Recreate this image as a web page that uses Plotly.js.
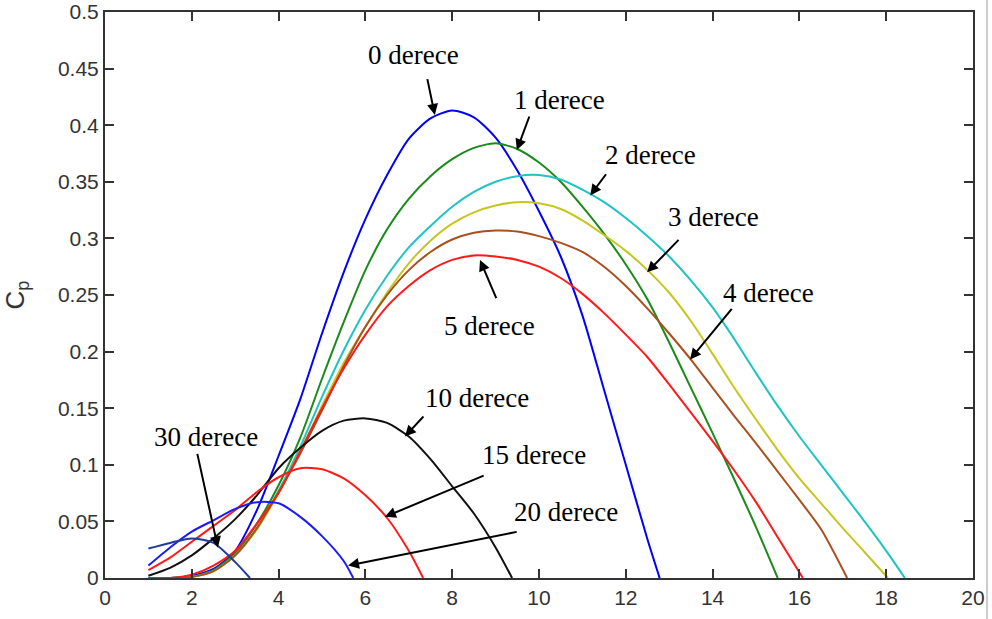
<!DOCTYPE html>
<html>
<head>
<meta charset="utf-8">
<script src="https://cdn.plot.ly/plotly-3.0.1.min.js"></script>
<style>
html,body{margin:0;padding:0;background:#fff;}
#chart{width:992px;height:619px;}
</style>
</head>
<body>
<div id="chart"></div>
<script>
// ---- Data ----
const x0 = [1,1.5,2,2.5,3,3.5,4,4.5,5,5.5,6,6.5,7,7.5,8,8.5,9,9.5,10,10.5,11,11.5,12,12.5,12.78];
const y0 = [0,0,0.002,0.008,0.024,0.06,0.108,0.158,0.216,0.27,0.317,0.356,0.388,0.406,0.413,0.407,0.389,0.36,0.324,0.284,0.232,0.166,0.1,0.034,0];

const x1 = [1,1.5,2,2.5,3,3.5,4,4.5,5,5.5,6,6.5,7,7.5,8,8.5,9,9.5,10,10.5,11,11.5,12,12.5,13,13.5,14,14.5,15,15.5];
const y1 = [0,0,0.001,0.007,0.022,0.048,0.082,0.124,0.176,0.226,0.272,0.308,0.335,0.355,0.37,0.38,0.384,0.379,0.367,0.35,0.328,0.304,0.277,0.246,0.208,0.168,0.128,0.087,0.045,0];

const x2 = [1,1.5,2,2.5,3,3.5,4,4.5,5,5.5,6,6.5,7,7.5,8,8.5,9,9.5,10,10.5,11,11.5,12,12.5,13,13.5,14,14.5,15,15.5,16,16.5,17,17.5,18,18.43];
const y2 = [0,0,0.001,0.006,0.02,0.044,0.077,0.116,0.16,0.201,0.237,0.267,0.292,0.311,0.328,0.341,0.35,0.355,0.356,0.352,0.343,0.332,0.318,0.302,0.284,0.263,0.239,0.211,0.181,0.152,0.125,0.1,0.075,0.05,0.024,0];

const x3 = [1,1.5,2,2.5,3,3.5,4,4.5,5,5.5,6,6.5,7,7.5,8,8.5,9,9.5,10,10.5,11,11.5,12,12.5,13,13.5,14,14.5,15,15.5,16,16.5,17,17.5,18.04];
const y3 = [0,0,0.001,0.006,0.02,0.043,0.075,0.112,0.152,0.19,0.222,0.252,0.278,0.298,0.313,0.323,0.329,0.332,0.331,0.326,0.316,0.303,0.289,0.272,0.252,0.227,0.198,0.168,0.14,0.113,0.088,0.066,0.044,0.023,0];

const x4 = [1,1.5,2,2.5,3,3.5,4,4.5,5,5.5,6,6.5,7,7.5,8,8.5,9,9.5,10,10.5,11,11.5,12,12.5,13,13.5,14,14.5,15,15.5,16,16.5,17.1];
const y4 = [0,0,0.001,0.006,0.02,0.044,0.076,0.11,0.148,0.187,0.222,0.25,0.272,0.288,0.299,0.305,0.307,0.306,0.302,0.296,0.288,0.275,0.258,0.238,0.216,0.193,0.168,0.143,0.119,0.094,0.069,0.043,0];

const x5 = [1,1.5,2,2.5,3,3.5,4,4.5,5,5.5,6,6.5,7,7.5,8,8.5,9,9.5,10,10.5,11,11.5,12,12.5,13,13.5,14,14.5,15,15.5,16.08];
const y5 = [0,0,0.003,0.011,0.024,0.048,0.075,0.112,0.15,0.185,0.215,0.24,0.258,0.272,0.281,0.285,0.284,0.281,0.275,0.265,0.251,0.234,0.215,0.195,0.171,0.146,0.121,0.095,0.067,0.036,0];

const x10 = [1,1.5,2,2.5,3,3.5,4,4.5,5,5.5,6,6.5,7,7.5,8,8.5,9,9.38];
const y10 = [0.002,0.009,0.02,0.035,0.052,0.073,0.097,0.115,0.13,0.139,0.141,0.137,0.125,0.105,0.081,0.057,0.027,0];

const x15 = [1,1.5,2,2.5,3,3.5,4,4.5,5,5.5,6,6.5,7,7.33];
const y15 = [0.007,0.018,0.032,0.046,0.06,0.076,0.089,0.097,0.096,0.088,0.073,0.053,0.024,0];

const x20 = [1,1.5,2,2.5,3,3.5,4,4.5,5,5.5,5.72];
const y20 = [0.011,0.027,0.041,0.051,0.061,0.067,0.066,0.054,0.037,0.015,0];

const x30 = [1,1.5,2,2.5,3,3.34];
const y30 = [0.026,0.031,0.035,0.031,0.014,0];

const seriesX = [x0,x1,x2,x3,x4,x5,x10,x15,x20,x30];
const seriesY = [y0,y1,y2,y3,y4,y5,y10,y15,y20,y30];
const seriesNames = ['0 derece','1 derece','2 derece','3 derece','4 derece','5 derece','10 derece','15 derece','20 derece','30 derece'];
const seriesColors = ['#0000ff','#1a8a1a','#1ec4c4','#c6c61e','#a8501e','#ff1a1a','#111111','#ff1a1a','#1a1aff','#1f3a9a'];

// label text positions [x, y] and arrow [tailX, tailY, headX, headY]
const labelPos = [[7.10,0.462],[10.48,0.422],[12.56,0.374],[14.03,0.319],[15.28,0.252],[8.85,0.223],[8.57,0.159],[9.88,0.109],[10.62,0.058],[2.33,0.125]];
const arrowPos = [[7.42,0.442,7.60,0.409],[9.79,0.409,9.49,0.378],[11.57,0.358,11.18,0.338],[13.25,0.300,12.49,0.270],[14.47,0.239,13.48,0.193],[9.03,0.246,8.64,0.281],[7.37,0.144,6.91,0.125],[8.76,0.091,6.45,0.054],[9.52,0.041,5.60,0.011],[2.12,0.111,2.60,0.027]];

const xTickVals = [0,2,4,6,8,10,12,14,16,18,20];
const xTickText = ['0','2','4','6','8','10','12','14','16','18','20'];
const yTickVals = [0,0.05,0.1,0.15,0.2,0.25,0.3,0.35,0.4,0.45,0.5];
const yTickText = ['0','0.05','0.1','0.15','0.2','0.25','0.3','0.35','0.4','0.45','0.5'];

// ---- Build traces ----
const traces = seriesX.map((xs,i)=>({
  x: xs, y: seriesY[i], name: seriesNames[i], type:'scatter', mode:'lines',
  line:{color: seriesColors[i], width:2, shape:'spline', smoothing:0.7}, hoverinfo:'skip'
}));

const annotations = [];
labelPos.forEach((p,i)=>{
  annotations.push({x:p[0], y:p[1], xref:'x', yref:'y', text: seriesNames[i], showarrow:false,
    xanchor:'center', yanchor:'middle',
    font:{family:'Liberation Serif, Times New Roman, serif', size:27, color:'#000'}});
});
arrowPos.forEach(a=>{
  annotations.push({x:a[2], y:a[3], ax:a[0], ay:a[1], xref:'x', yref:'y', axref:'x', ayref:'y',
    text:'', showarrow:true, arrowhead:2, arrowsize:1.1, arrowwidth:2, arrowcolor:'#000', standoff:0, startstandoff:0});
});

const tickFont = {family:'Liberation Sans, Arial, sans-serif', size:21, color:'#333'};
const layout = {
  width:992, height:619,
  margin:{l:105, r:19, t:12, b:41, pad:0},
  paper_bgcolor:'#fff', plot_bgcolor:'#fff',
  showlegend:false,
  xaxis:{range:[0,20], tickvals:xTickVals, ticktext:xTickText, ticks:'inside', ticklen:9, tickwidth:2, tickcolor:'#333',
    showline:true, linecolor:'#333', linewidth:2, mirror:'ticks', showgrid:false, zeroline:false, tickfont:tickFont},
  yaxis:{range:[0,0.5], tickvals:yTickVals, ticktext:yTickText, ticks:'inside', ticklen:9, tickwidth:2, tickcolor:'#333',
    showline:true, linecolor:'#333', linewidth:2, mirror:'ticks', showgrid:false, zeroline:false, tickfont:tickFont,
    title:{text:'C<sub>p</sub>', font:{family:'Liberation Sans, Arial, sans-serif', size:26, color:'#333'}, standoff:28}},
  annotations: annotations,
  shapes:[{type:'line', xref:'paper', yref:'paper', x0:1.0161, x1:1.0161, y0:-0.08, y1:1.03, line:{color:'#cccccc', width:2}}]
};

Plotly.newPlot('chart', traces, layout, {displayModeBar:false, staticPlot:true});
</script>
</body>
</html>
